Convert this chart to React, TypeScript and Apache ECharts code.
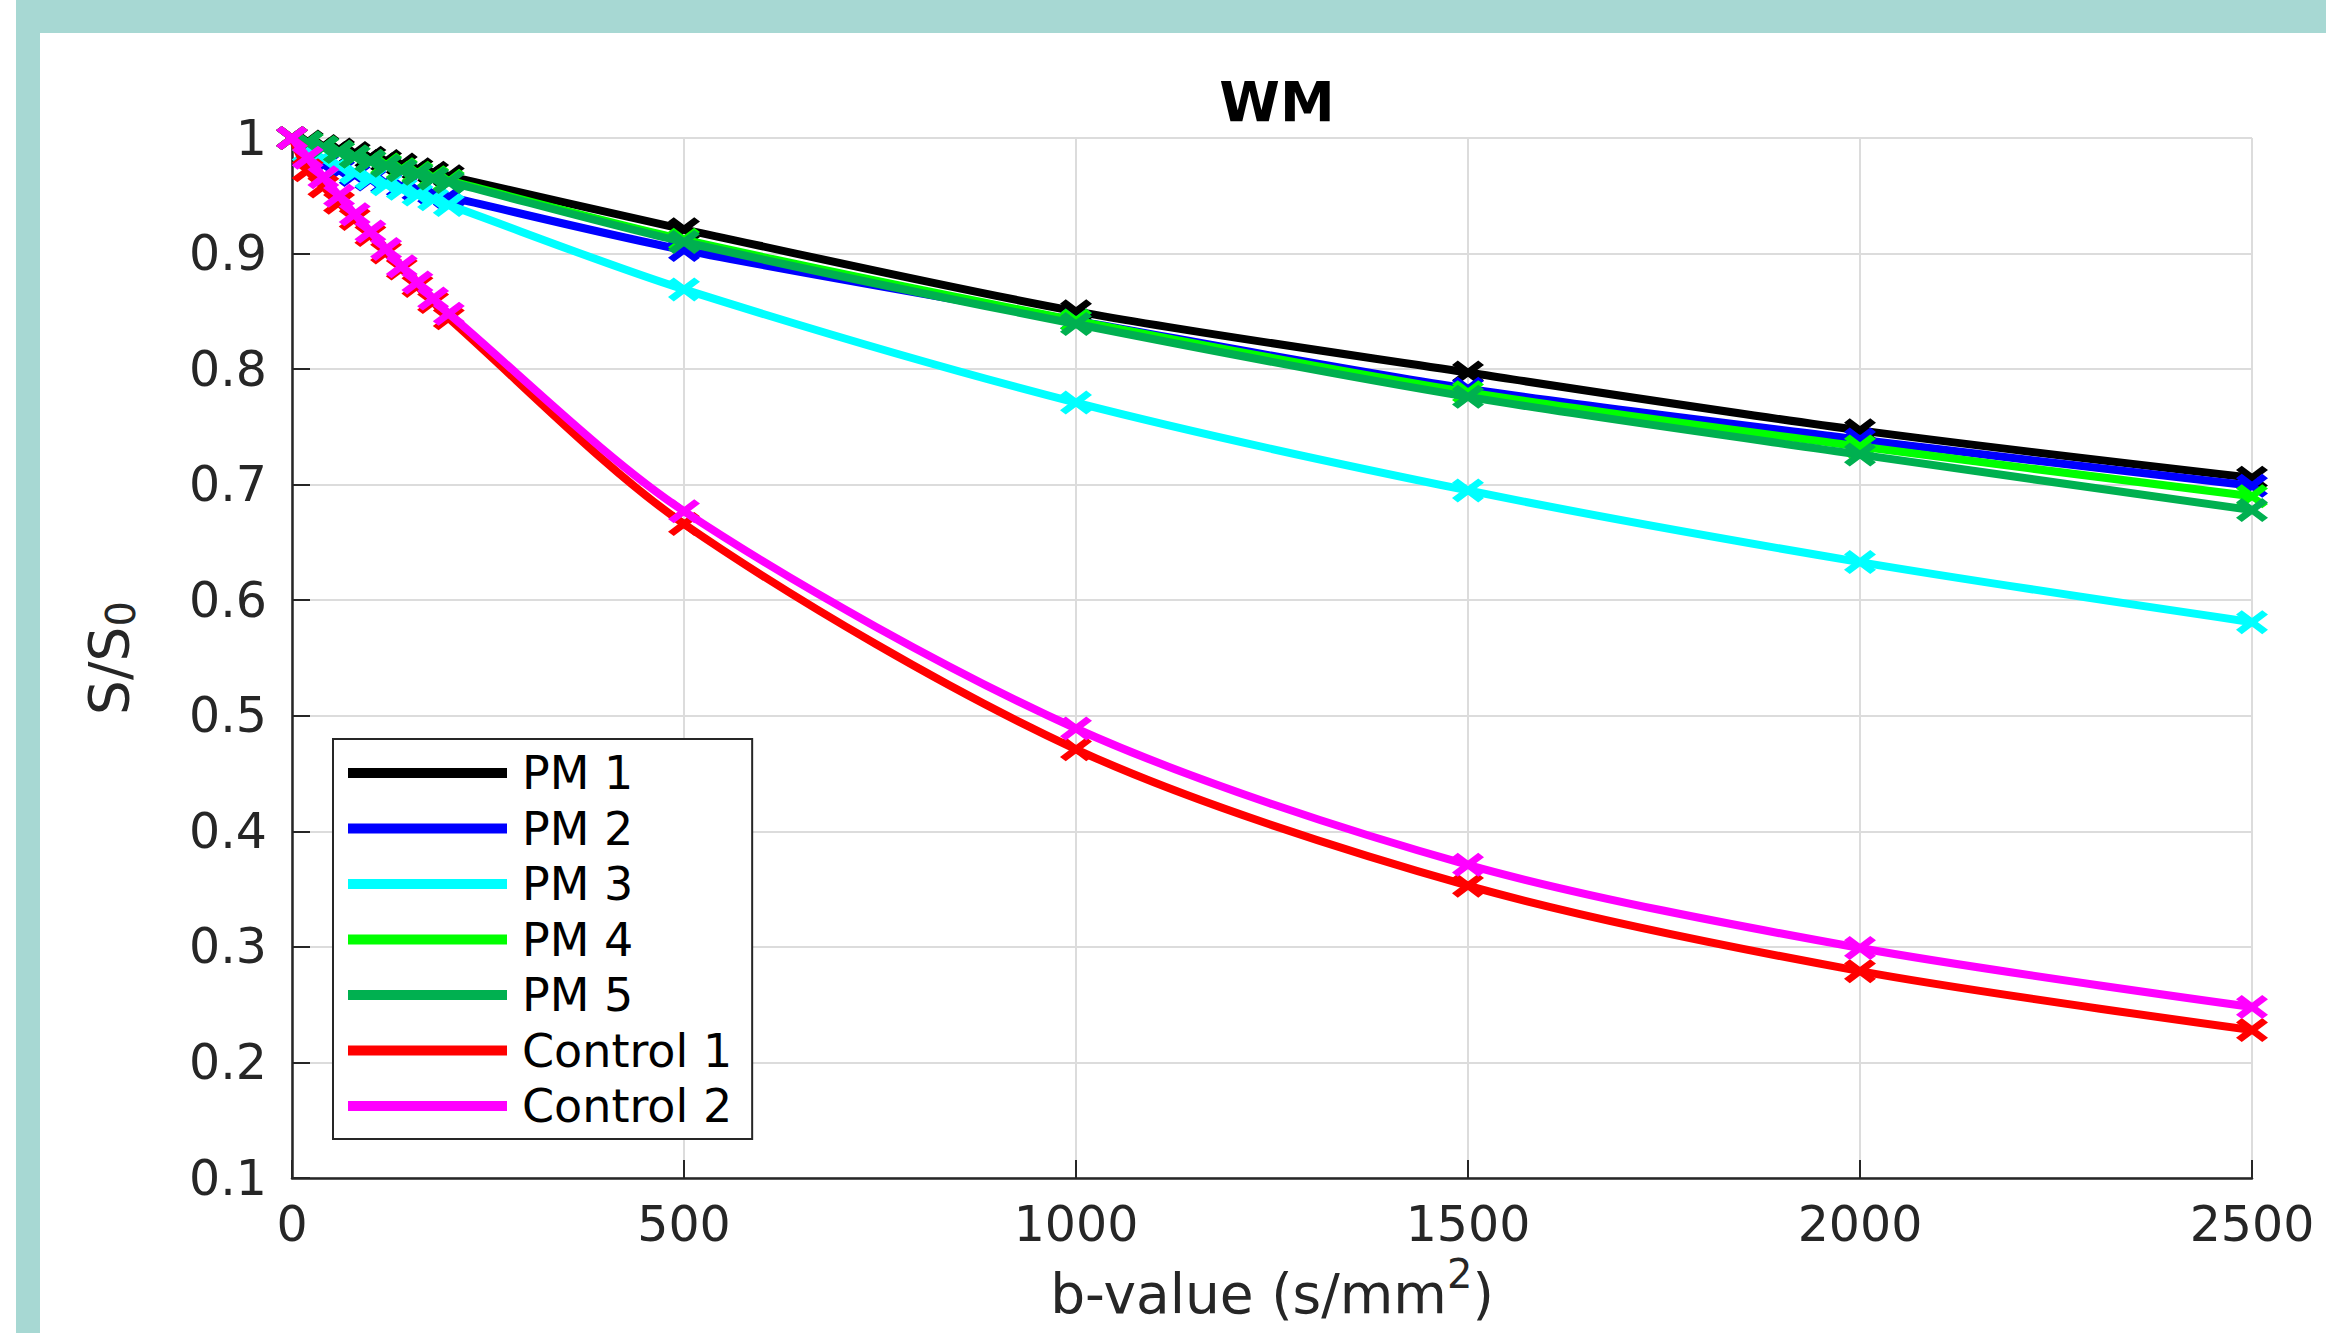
import React, { useEffect, useRef } from "react";
import * as echarts from "echarts";

const bValues = [0, 20, 40, 60, 80, 100, 120, 140, 160, 180, 200, 500, 1000, 1500, 2000, 2500];

const pm1 = [1.0, 0.997, 0.993, 0.99, 0.987, 0.983, 0.98, 0.977, 0.973, 0.97, 0.967, 0.921, 0.85, 0.797, 0.747, 0.706];
const pm2 = [1.0, 0.985, 0.977, 0.972, 0.968, 0.964, 0.961, 0.958, 0.955, 0.952, 0.949, 0.903, 0.842, 0.783, 0.739, 0.699];
const pm3 = [1.0, 0.988, 0.982, 0.976, 0.97, 0.965, 0.96, 0.956, 0.951, 0.947, 0.942, 0.869, 0.771, 0.695, 0.633, 0.581];
const pm4 = [1.0, 0.996, 0.992, 0.988, 0.984, 0.98, 0.977, 0.973, 0.97, 0.966, 0.963, 0.912, 0.842, 0.78, 0.733, 0.69];
const pm5 = [1.0, 0.996, 0.992, 0.988, 0.984, 0.98, 0.976, 0.972, 0.969, 0.965, 0.962, 0.91, 0.839, 0.776, 0.726, 0.678];
const control1 = [1.0, 0.972, 0.958, 0.944, 0.93, 0.916, 0.901, 0.887, 0.872, 0.858, 0.844, 0.666, 0.471, 0.353, 0.279, 0.228];
const control2 = [1.0, 0.983, 0.966, 0.95, 0.934, 0.919, 0.904, 0.889, 0.875, 0.861, 0.848, 0.677, 0.489, 0.371, 0.299, 0.248];

const seriesNames = ["PM 1", "PM 2", "PM 3", "PM 4", "PM 5", "Control 1", "Control 2"];
const seriesValues = [pm1, pm2, pm3, pm4, pm5, control1, control2];
const seriesColors = ["#000000", "#0000ff", "#00ffff", "#00ff00", "#00b050", "#ff0000", "#ff00ff"];

const xTicks = [0, 500, 1000, 1500, 2000, 2500];
const yTicks = [0.1, 0.2, 0.3, 0.4, 0.5, 0.6, 0.7, 0.8, 0.9, 1];

const FONT = "DejaVu Sans";
const X_SYMBOL = "path://M0,18 L18,0 L100,82 L82,100 Z M82,0 L100,18 L18,100 L0,82 Z";

export default function App() {
  const ref = useRef<HTMLDivElement>(null);

  useEffect(() => {
    if (!ref.current) return;
    const chart = echarts.init(ref.current, undefined, { renderer: "svg" });

    const series = seriesNames.map((name, i) => ({
      name,
      type: "line",
      data: bValues.map((b, j) => [b, seriesValues[i][j]]),
      smooth: 0.3,
      symbol: X_SYMBOL,
      symbolSize: [32, 24],
      showAllSymbol: true,
      lineStyle: { color: seriesColors[i], width: 8 },
      itemStyle: { color: seriesColors[i], borderWidth: 0 },
      z: 2 + i,
    }));

    chart.setOption({
      animation: false,
      backgroundColor: "#ffffff",
      textStyle: { fontFamily: FONT },
      graphic: [
        { type: "rect", left: 16, top: 0, shape: { width: 2326 - 16, height: 33 }, style: { fill: "#a7d8d3" }, silent: true },
        { type: "rect", left: 16, top: 0, shape: { width: 24, height: 1333 }, style: { fill: "#a7d8d3" }, silent: true },
      ],
      title: {
        text: "WM",
        left: 1272,
        textAlign: "center",
        top: 69,
        textStyle: { fontFamily: FONT, fontSize: 55, fontWeight: "bold", color: "#000" },
      },
      grid: { left: 292, right: 74, top: 138, bottom: 155, containLabel: false, outerBoundsMode: "none" },
      legend: {
        orient: "vertical",
        left: 333,
        top: 739,
        padding: [11, 20, 10, 15],
        itemGap: 9.5,
        itemWidth: 159,
        itemHeight: 10,
        icon: "rect",
        backgroundColor: "#ffffff",
        borderColor: "#262626",
        borderWidth: 2,
        borderRadius: 0,
        textStyle: { fontFamily: FONT, fontSize: 46, lineHeight: 46, color: "#000", padding: [0, 0, 0, 10] },
        data: seriesNames,
      },
      xAxis: {
        type: "value",
        min: xTicks[0],
        max: xTicks[xTicks.length - 1],
        interval: 500,
        name: "{m|b-value (s/mm}{s|2}{m|)}",
        nameLocation: "middle",
        nameGap: 91,
        nameTextStyle: {
          rich: {
            m: { fontFamily: FONT, fontSize: 55, color: "#262626", lineHeight: 50, verticalAlign: "bottom" },
            s: { fontFamily: FONT, fontSize: 40, color: "#262626", lineHeight: 40, verticalAlign: "bottom", padding: [0, 0, 28, 0] },
          },
        },
        axisLine: { show: true, lineStyle: { color: "#262626", width: 2.5 } },
        axisTick: { show: true, inside: true, length: 18, lineStyle: { color: "#262626", width: 2 } },
        axisLabel: {
          fontFamily: FONT,
          fontSize: 49,
          color: "#262626",
          margin: 22,
          formatter: (v: number) => String(Math.round(v)),
        },
        splitLine: { show: true, lineStyle: { color: "#dcdcdc", width: 2 } },
      },
      yAxis: {
        type: "value",
        min: yTicks[0],
        max: yTicks[yTicks.length - 1],
        interval: 0.1,
        name: "{m|S/S}{s|0}",
        nameLocation: "middle",
        nameRotate: 90,
        nameGap: 151,
        nameTextStyle: {
          rich: {
            m: { fontFamily: FONT, fontSize: 55, color: "#262626", lineHeight: 60, verticalAlign: "top" },
            s: { fontFamily: FONT, fontSize: 40, color: "#262626", lineHeight: 40, verticalAlign: "bottom" },
          },
        },
        axisLine: { show: true, lineStyle: { color: "#262626", width: 2.5 } },
        axisTick: { show: true, inside: true, length: 18, lineStyle: { color: "#262626", width: 2 } },
        axisLabel: {
          fontFamily: FONT,
          fontSize: 49,
          color: "#262626",
          margin: 25,
          formatter: (v: number) => (Math.abs(v - 1) < 1e-9 ? "1" : v.toFixed(1)),
        },
        splitLine: { show: true, lineStyle: { color: "#dcdcdc", width: 2 } },
      },
      series,
    });

    return () => chart.dispose();
  }, []);

  return (
    <div
      ref={ref}
      style={{ position: "fixed", left: 0, top: 0, width: 2326, height: 1333 }}
    />
  );
}
